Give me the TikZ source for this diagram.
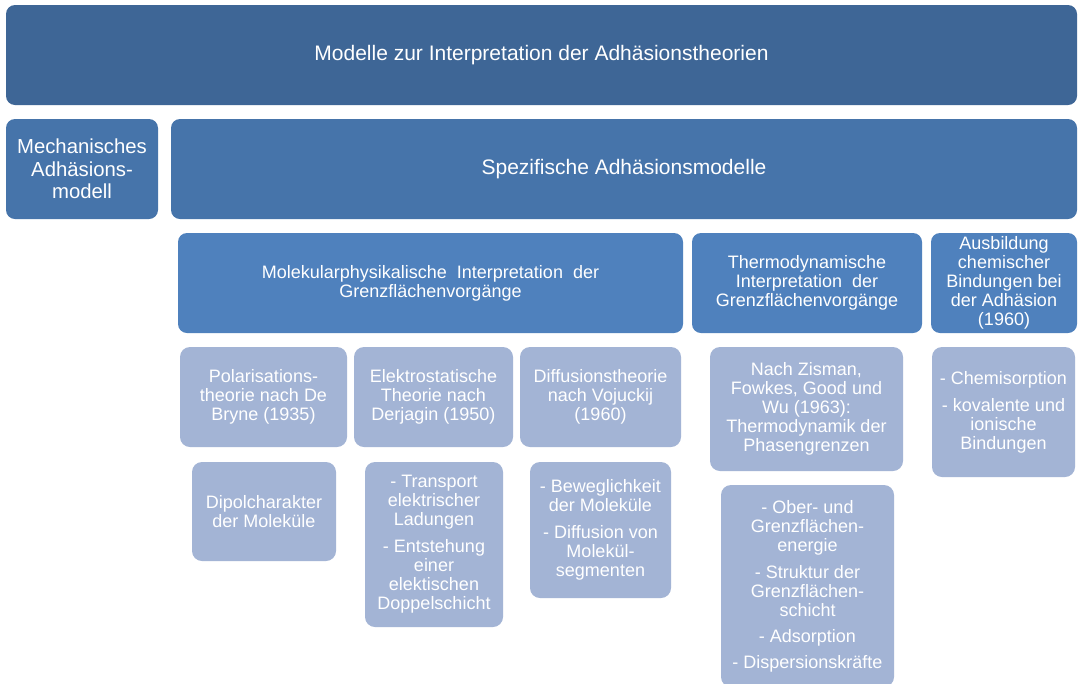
\documentclass[tikz,border=0pt]{standalone}
\usepackage{fontspec}
\setmainfont{Liberation Sans}
\definecolor{cTop}{HTML}{3E6696}
\definecolor{cMid}{HTML}{4674AA}
\definecolor{cThird}{HTML}{4F81BD}
\definecolor{cLight}{HTML}{A3B4D5}
\tikzset{
  basebox/.style={rounded corners=9pt, draw=none, inner sep=0pt, align=center, text=white,
    font={\fontsize{18}{19}\selectfont}},
  topbox/.style={basebox, fill=cTop, font={\fontsize{21}{23}\selectfont}},
  midbox/.style={basebox, fill=cMid, font={\fontsize{21}{22.5}\selectfont}},
  thirdbox/.style={basebox, fill=cThird},
  lightbox/.style={basebox, fill=cLight, rounded corners=10pt},
}
\begin{document}
\begin{tikzpicture}[x=1pt,y=-1pt]
\clip (0,0) rectangle (1078,683);
\fill[white] (0,0) rectangle (1078,683);
% level 1
\node[topbox, minimum width=1071, minimum height=100] (title) at (541.5,55) {Modelle zur Interpretation der Adhäsionstheorien};
% level 2
\node[midbox, font={\fontsize{20.3}{22.5}\selectfont}, minimum width=152, minimum height=100] (mech) at (82,169) {Mechanisches\\Adhäsions-\\modell};
\node[midbox, minimum width=906, minimum height=100] (spez) at (624,169) {Spezifische Adhäsionsmodelle};
% level 3
\node[thirdbox, minimum width=505, minimum height=100] (mol) at (430.5,283) {Molekularphysikalische\ \ Interpretation\ \ der\\Grenzflächenvorgänge};
\node[thirdbox, minimum width=230, minimum height=100] (thermo) at (807,283) {Thermodynamische\\Interpretation\ \ der\\Grenzflächenvorgänge};
\node[thirdbox, minimum width=146, minimum height=100] (ausb) at (1004,283) {Ausbildung\\chemischer\\Bindungen bei\\der Adhäsion\\(1960)};
% level 4
\node[lightbox, minimum width=167, minimum height=100] (pol) at (263.5,397) {Polarisations-\\theorie nach De\\Bryne (1935)};
\node[lightbox, minimum width=159, minimum height=100] (elek) at (433.5,397) {Elektrostatische\\Theorie nach\\Derjagin (1950)};
\node[lightbox, minimum width=161, minimum height=100] (diff) at (600.5,397) {Diffusionstheorie\\nach Vojuckij\\(1960)};
\node[lightbox, minimum width=193, minimum height=124] (zis) at (806.5,409) {Nach Zisman,\\Fowkes, Good und\\Wu (1963):\\Thermodynamik der\\Phasengrenzen};
\node[lightbox, minimum width=143, minimum height=130] (chem) at (1003.5,412) {- Chemisorption\\[8pt]- kovalente und\\ionische\\Bindungen};
% level 5
\node[lightbox, minimum width=144, minimum height=99] (dipol) at (264,511.5) {Dipolcharakter\\der Moleküle};
\node[lightbox, minimum width=138, minimum height=165] (trans) at (434,544.5) {- Transport\\elektrischer\\Ladungen\\[8pt]- Entstehung\\einer\\elektischen\\Doppelschicht};
\node[lightbox, minimum width=141, minimum height=136] (bew) at (600.5,530) {- Beweglichkeit\\der Moleküle\\[8pt]- Diffusion von\\Molekül-\\segmenten};
\node[lightbox, minimum width=173, minimum height=202] (ober) at (807.5,586) {- Ober- und\\Grenzflächen-\\energie\\[8pt]- Struktur der\\Grenzflächen-\\schicht\\[7pt]- Adsorption\\[7pt]- Dispersionskräfte};
\end{tikzpicture}
\end{document}
